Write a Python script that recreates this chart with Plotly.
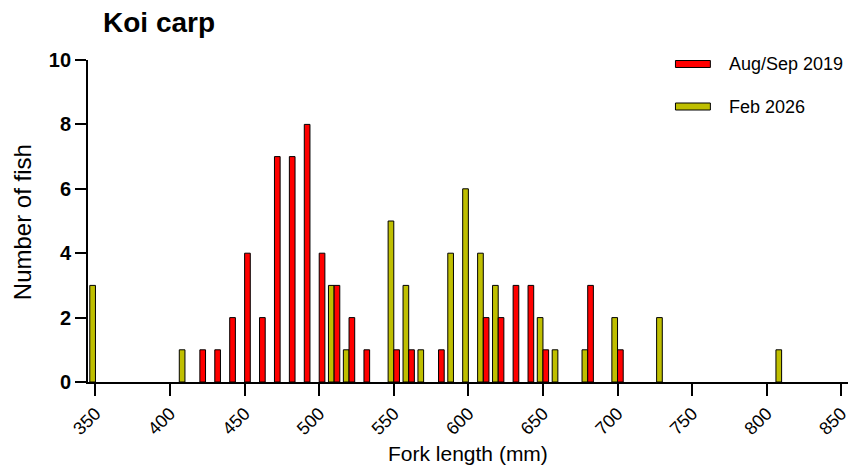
import plotly.graph_objects as go

# Fork length bins (mm, bin centres) and fish counts
aug2019_bins = [420, 430, 440, 450, 460, 470, 480, 490, 500, 510, 520, 530, 550, 560,
                580, 610, 620, 630, 640, 650, 680, 700]
aug2019_counts = [1, 1, 2, 4, 2, 7, 7, 8, 4, 3, 2, 1, 1, 1,
                  1, 2, 2, 3, 3, 1, 3, 1]

feb2026_bins = [350, 410, 510, 520, 550, 560, 570, 590, 600, 610, 620, 650, 660,
                680, 700, 730, 810]
feb2026_counts = [3, 1, 3, 1, 5, 3, 1, 4, 6, 4, 3, 2, 1,
                  1, 2, 2, 1]

x_ticks = [350, 400, 450, 500, 550, 600, 650, 700, 750, 800, 850]
y_ticks = [0, 2, 4, 6, 8, 10]

series_names = ["Aug/Sep 2019", "Feb 2026"]
RED = "#FF0000"
YEL = "#BFBF00"
FONT = "Liberation Sans, Arial, sans-serif"

W, H = 859, 473
L, R, T, B = 88, 9, 60, 91
PW, PH = W - L - R, H - T - B


def px(x):
    return (x - L) / PW


def py(y):
    return (H - B - y) / PH


fig = go.Figure()
# Feb 2026 drawn in left slot, Aug/Sep 2019 in right slot
fig.add_trace(go.Bar(x=feb2026_bins, y=feb2026_counts, name=series_names[1],
                     marker=dict(color=YEL, line=dict(color="black", width=1)),
                     showlegend=False))
fig.add_trace(go.Bar(x=aug2019_bins, y=aug2019_counts, name=series_names[0],
                     marker=dict(color=RED, line=dict(color="black", width=1)),
                     showlegend=False))

shapes = []
annotations = []
# legend
for name, col, cy in [(series_names[0], RED, 64), (series_names[1], YEL, 106.5)]:
    shapes.append(dict(type="rect", xref="paper", yref="paper",
                       x0=px(677), x1=px(712), y0=py(cy + 3.5), y1=py(cy - 3.5),
                       fillcolor=col, line=dict(color="black", width=1)))
    annotations.append(dict(text=name, xref="paper", yref="paper", x=px(729), y=py(cy),
                            xanchor="left", yanchor="middle", showarrow=False,
                            font=dict(family=FONT, size=18, color="black")))

annotations.append(dict(text="<b>Koi carp</b>", xref="paper", yref="paper",
                        x=px(101), y=py(22), xanchor="left", yanchor="middle",
                        showarrow=False, font=dict(family=FONT, size=28, color="black")))
annotations.append(dict(text="Fork length (mm)", xref="paper", yref="paper",
                        x=px(469), y=py(453), xanchor="center", yanchor="middle",
                        showarrow=False, font=dict(family=FONT, size=21, color="black")))
annotations.append(dict(text="Number of fish", xref="paper", yref="paper",
                        x=px(23), y=py(222), xanchor="center", yanchor="middle",
                        textangle=-90, showarrow=False,
                        font=dict(family=FONT, size=24, color="black")))

fig.update_layout(
    width=W, height=H,
    margin=dict(l=L, r=R, t=T, b=B, pad=0),
    paper_bgcolor="white", plot_bgcolor="white",
    barmode="group", bargap=0.24, bargroupgap=0,
    shapes=shapes, annotations=annotations,
    font=dict(family=FONT, color="black"),
)
fig.update_xaxes(range=[345, 854.5], tickvals=x_ticks, ticks="outside", ticklen=12,
                 tickwidth=1.5, tickcolor="black", showline=True, linecolor="black",
                 linewidth=1.8, showgrid=False, zeroline=False, tickangle=-45,
                 tickfont=dict(family=FONT, size=18, color="black"))
fig.update_yaxes(range=[0, 10], tickvals=y_ticks, ticks="outside", ticklen=11,
                 tickwidth=1.5, tickcolor="black", showline=True, linecolor="black",
                 linewidth=1.8, showgrid=False, zeroline=False,
                 tickfont=dict(family=FONT, size=20, color="black", weight="bold"))

fig.write_html("out.html")
